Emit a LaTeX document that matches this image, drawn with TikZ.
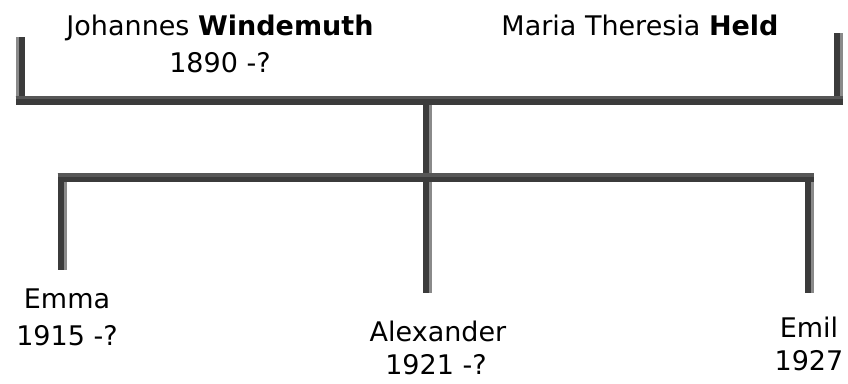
\documentclass[tikz,border=0pt]{standalone}
\usepackage{fontspec}
\setmainfont{DejaVu Sans}
\definecolor{bardark}{HTML}{3B3B3B}
\definecolor{barmid}{HTML}{575757}
\definecolor{barlight}{HTML}{8A8A8A}
\begin{document}
\begin{tikzpicture}[x=1pt,y=-1pt,
  person/.style={font=\fontsize{27}{32}\selectfont, inner sep=0pt, anchor=base},
  bar/.style={draw=bardark, line width=9pt, line cap=butt},
  hlv/.style={draw=barlight, line width=3pt, line cap=butt},
  hlh/.style={draw=barmid, line width=3.5pt, line cap=butt}]
\useasboundingbox (0,0) rectangle (848,383);
\fill[white] (0,0) rectangle (848,383);
% people
\node[person] (jw)  at (220,35)  {Johannes \textbf{Windemuth}};
\node[person] (jwy) at (220,72)  {1890 -?};
\node[person] (mh)  at (640,35)  {Maria Theresia \textbf{Held}};
\node[person] (em)  at (67,308)  {Emma};
\node[person] (emy) at (67,345)  {1915 -?};
\node[person] (al)  at (438,341) {Alexander};
\node[person] (aly) at (436,374) {1921 -?};
\node[person] (ei)  at (809,337) {Emil};
\node[person] (eiy) at (809,370) {1927};
% connector points
\coordinate (ptl) at (20,37);
\coordinate (pbl) at (20,104.5);
\coordinate (pbr) at (838,104.5);
\coordinate (ptr) at (838,33);
\coordinate (pm)  at (427,104.5);
\coordinate (mend) at (427,293);
\coordinate (cl)  at (62,173);
\coordinate (clend) at (62,270);
\coordinate (cr)  at (809,173);
\coordinate (crend) at (809,293);
% vertical bars
\draw[bar] (ptl) -- (pbl);
\draw[hlv] ([xshift=-3pt]ptl) -- ([xshift=-3pt]pbl);
\draw[bar] (ptr) -- (pbr);
\draw[hlv] ([xshift=3pt]ptr) -- ([xshift=3pt]pbr);
\draw[bar] (pm) -- (mend);
\draw[hlv] ([xshift=3pt]pm) -- ([xshift=3pt]mend);
\draw[bar] (cl) -- (clend);
\draw[hlv] ([xshift=3pt]cl) -- ([xshift=3pt]clend);
\draw[bar] (cr) -- (crend);
\draw[hlv] ([xshift=3pt]cr) -- ([xshift=3pt]crend);
% horizontal bars
\draw[bar] ([xshift=-4.5pt,yshift=4.5pt]pbl) -- ([xshift=4.5pt,yshift=4.5pt]pbr);
\draw[hlh] ([xshift=-4.5pt,yshift=7pt]pbl) -- ([xshift=4.5pt,yshift=7pt]pbr);
\draw[bar] ([xshift=-4.5pt,yshift=-4.5pt]cl) -- ([xshift=4.5pt,yshift=-4.5pt]cr);
\draw[hlh] ([xshift=-4.5pt,yshift=-2pt]cl) -- ([xshift=4.5pt,yshift=-2pt]cr);
\end{tikzpicture}
\end{document}
